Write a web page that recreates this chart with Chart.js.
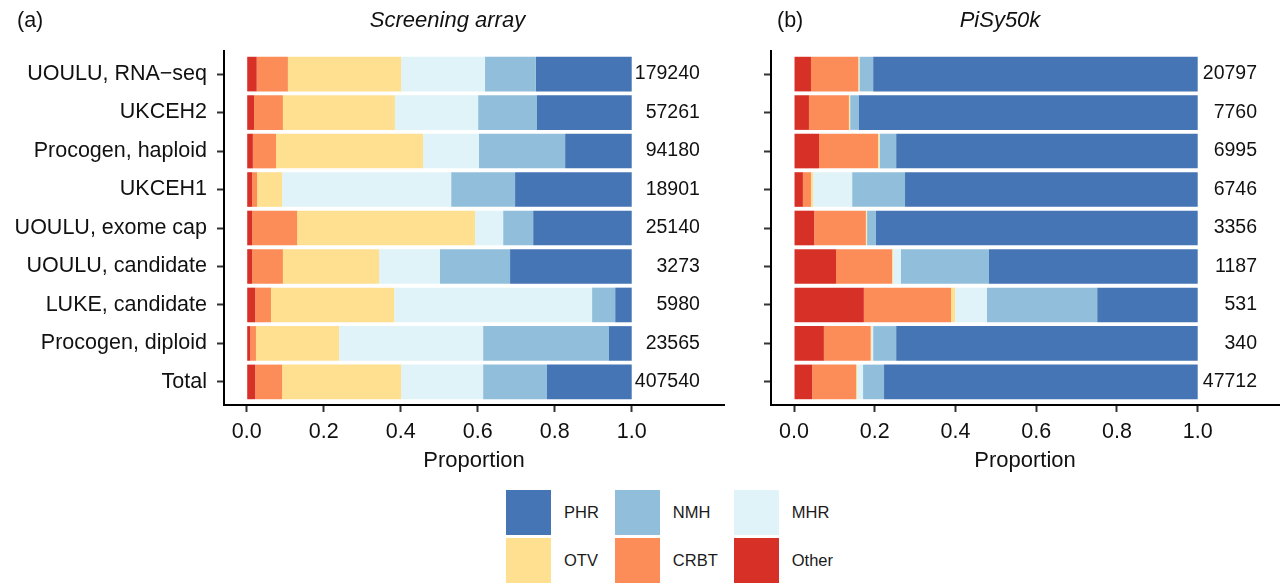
<!DOCTYPE html>
<html><head><meta charset="utf-8">
<script src="https://cdn.jsdelivr.net/npm/chart.js@4.4.1/dist/chart.umd.min.js"></script>
<style>
html,body{margin:0;padding:0;background:#fff;}
body{width:1282px;height:586px;position:relative;overflow:hidden;font-family:"Liberation Sans",Arial,sans-serif;}
#c1{position:absolute;left:0;top:0;}
#c2{position:absolute;left:740px;top:0;}
#legend{position:absolute;left:506px;top:490px;display:grid;grid-template-columns:repeat(3,auto);column-gap:16px;row-gap:3px;justify-content:start;}
.item{display:flex;align-items:center;}
.sw{width:45px;height:45px;flex:none;}
.lb{margin-left:13px;font-size:16.5px;color:#1a1a1a;white-space:nowrap;}
</style></head><body>
<canvas id="c1" width="740" height="480"></canvas>
<canvas id="c2" width="542" height="480"></canvas>
<div id="legend"></div>
<script>
const FONT = '"Liberation Sans", Arial, sans-serif';

const categories = ["UOULU, RNA\u2212seq", "UKCEH2", "Procogen, haploid", "UKCEH1",
  "UOULU, exome cap", "UOULU, candidate", "LUKE, candidate", "Procogen, diploid", "Total"];

const seriesNames  = ["Other", "CRBT", "OTV", "MHR", "NMH", "PHR"];
const seriesColors = ["#D73027", "#FC8D59", "#FEE090", "#E0F3F8", "#91BFDB", "#4575B4"];

const xTickValues = [0, 0.2, 0.4, 0.6, 0.8, 1.0];

// (a) Screening array proportions
const screenOther = [0.026, 0.019, 0.016, 0.014, 0.014, 0.014, 0.022, 0.009, 0.022];
const screenCRBT  = [0.081, 0.075, 0.060, 0.013, 0.117, 0.080, 0.041, 0.015, 0.070];
const screenOTV   = [0.294, 0.291, 0.382, 0.065, 0.462, 0.250, 0.320, 0.216, 0.309];
const screenMHR   = [0.218, 0.216, 0.145, 0.439, 0.073, 0.158, 0.514, 0.374, 0.213];
const screenNMH   = [0.132, 0.153, 0.224, 0.166, 0.078, 0.182, 0.060, 0.327, 0.166];
const screenPHR   = [0.249, 0.246, 0.173, 0.303, 0.256, 0.316, 0.043, 0.059, 0.220];
const screenCounts = [179240, 57261, 94180, 18901, 25140, 3273, 5980, 23565, 407540];

// (b) PiSy50k proportions
const pisyOther = [0.042, 0.037, 0.062, 0.022, 0.050, 0.104, 0.173, 0.074, 0.045];
const pisyCRBT  = [0.117, 0.099, 0.146, 0.020, 0.128, 0.139, 0.216, 0.116, 0.109];
const pisyOTV   = [0.002, 0.002, 0.003, 0.005, 0.002, 0.002, 0.010, 0.002, 0.002];
const pisyMHR   = [0.001, 0.001, 0.001, 0.097, 0.001, 0.020, 0.079, 0.004, 0.015];
const pisyNMH   = [0.034, 0.022, 0.041, 0.131, 0.022, 0.218, 0.273, 0.057, 0.052];
const pisyPHR   = [0.804, 0.839, 0.747, 0.725, 0.797, 0.517, 0.249, 0.747, 0.777];
const pisyCounts = [20797, 7760, 6995, 6746, 3356, 1187, 531, 340, 47712];

function annotPlugin(cfg) {
  return {
    id: 'annot_' + cfg.tag,
    afterDatasetsDraw(chart) {
      const ctx = chart.ctx, xs = chart.scales.x, ys = chart.scales.y;
      ctx.save();
      ctx.fillStyle = '#111';
      ctx.font = '19.5px ' + FONT;
      ctx.textAlign = 'right';
      ctx.textBaseline = 'middle';
      cfg.counts.forEach((n, i) => {
        ctx.fillText(String(n), xs.getPixelForValue(cfg.countAt), ys.getPixelForValue(i));
      });
      ctx.font = 'italic 22px ' + FONT;
      ctx.textAlign = 'center';
      ctx.fillText(cfg.title, cfg.titleX, 21);
      ctx.font = '21.5px ' + FONT;
      ctx.textAlign = 'left';
      ctx.fillText(cfg.tag, cfg.tagX, 21);
      ctx.restore();
    }
  };
}

function makeChart(id, values, cfg) {
  return new Chart(document.getElementById(id), {
    type: 'bar',
    data: {
      datasets: seriesNames.map((name, k) => ({
        label: name,
        data: values[k].map((v, i) => ({ x: v, y: i })),
        backgroundColor: seriesColors[k],
        borderWidth: 0,
        barPercentage: 0.9,
        categoryPercentage: 1.0
      }))
    },
    options: {
      indexAxis: 'y',
      responsive: false,
      animation: false,
      events: [],
      layout: { padding: { top: 51, right: cfg.padRight, bottom: 0, left: 0 } },
      plugins: { legend: { display: false }, tooltip: { enabled: false }, title: { display: false } },
      scales: {
        x: {
          type: 'linear', stacked: true, bounds: 'data', offset: false,
          min: cfg.xMin, max: cfg.xMax,
          afterBuildTicks: a => { a.ticks = xTickValues.map(v => ({ value: v })); },
          afterFit: s => { s.height = 75; },
          ticks: { callback: v => Number(v).toFixed(1), font: { size: 21.5, family: FONT }, color: '#111', padding: 7, maxRotation: 0, autoSkip: false },
          grid: { display: true, offset: false, drawOnChartArea: false, drawTicks: true, tickLength: 7, tickWidth: 2, tickColor: '#333', color: '#333' },
          border: { display: true, color: '#000', width: 2 },
          title: { display: true, text: 'Proportion', font: { size: 22, family: FONT }, color: '#111', padding: { top: 0, bottom: 6 } }
        },
        y: {
          type: 'linear', reverse: true, stacked: true, bounds: 'data', offset: false,
          min: -0.6, max: categories.length - 0.4,
          afterBuildTicks: a => { a.ticks = categories.map((_, i) => ({ value: i })); },
          afterFit: s => { s.width = cfg.yWidth; },
          ticks: { callback: v => cfg.showLabels ? categories[Math.round(v)] : '', font: { size: 21.5, family: FONT }, color: '#111', padding: 10, autoSkip: false },
          grid: { display: true, offset: false, drawOnChartArea: false, drawTicks: true, tickLength: 7, tickWidth: 2, tickColor: '#333', color: '#333' },
          border: { display: true, color: '#000', width: 2 }
        }
      }
    },
    plugins: [annotPlugin(cfg)]
  });
}

makeChart('c1', [screenOther, screenCRBT, screenOTV, screenMHR, screenNMH, screenPHR], {
  counts: screenCounts, countAt: 1.177, title: 'Screening array', titleX: 447.5, tag: '(a)', tagX: 17,
  xMin: -0.059, xMax: 1.2397, yWidth: 224, padRight: 16, showLabels: true
});
makeChart('c2', [pisyOther, pisyCRBT, pisyOTV, pisyMHR, pisyNMH, pisyPHR], {
  counts: pisyCounts, countAt: 1.147, title: 'PiSy50k', titleX: 260, tag: '(b)', tagX: 37,
  xMin: -0.057, xMax: 1.2014, yWidth: 31, padRight: 3, showLabels: false
});

// legend (ggplot order: PHR, NMH, MHR / OTV, CRBT, Other)
const legend = document.getElementById('legend');
seriesNames.map((n, k) => k).reverse().forEach(k => {
  const item = document.createElement('div'); item.className = 'item';
  const sw = document.createElement('div'); sw.className = 'sw'; sw.style.background = seriesColors[k];
  const lb = document.createElement('span'); lb.className = 'lb'; lb.textContent = seriesNames[k];
  item.appendChild(sw); item.appendChild(lb); legend.appendChild(item);
});
</script>
</body></html>
